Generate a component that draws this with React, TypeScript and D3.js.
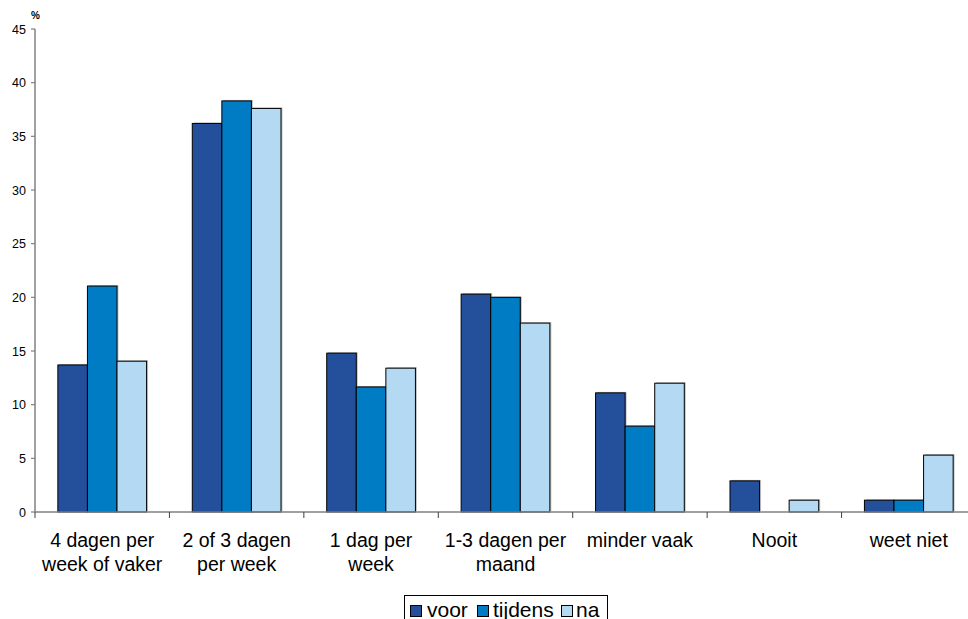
import React from "react";
import * as d3 from "d3";

const categories: string[][] = [
  ["4 dagen per", "week of vaker"],
  ["2 of 3 dagen", "per week"],
  ["1 dag per", "week"],
  ["1-3 dagen per", "maand"],
  ["minder vaak"],
  ["Nooit"],
  ["weet niet"],
];
const seriesNames = ["voor", "tijdens", "na"];
const voor = [13.7, 36.2, 14.8, 20.3, 11.1, 2.9, 1.1];
const tijdens = [21.05, 38.3, 11.65, 20.0, 8.0, 0, 1.1];
const na = [14.05, 37.6, 13.4, 17.6, 12.0, 1.1, 5.3];
const colors = ["#244f9b", "#007cc4", "#b3d9f3"];
const yTicks = [0, 5, 10, 15, 20, 25, 30, 35, 40, 45];

export default function App() {
  const W = 968, H = 619;
  const left = 35, right = 976, top = 29, bottom = 512;
  const series = [voor, tijdens, na];
  const x = d3.scaleBand<number>().domain(d3.range(categories.length)).range([left, right]).paddingInner(0).paddingOuter(0);
  const y = d3.scaleLinear().domain([0, 45]).range([bottom, top]);
  const font = "'Liberation Sans', Arial, sans-serif";
  const bw = x.bandwidth() * 0.22;
  const groupOffset = (x.bandwidth() - bw * 3) / 2;

  return (
    <svg width={W} height={H} style={{ position: "absolute", left: 0, top: 0 }} fontFamily={font}>
      <rect width={W} height={H} fill="#fff" />
      {series.map((vals, si) =>
        vals.map((v, ci) => {
          if (v <= 0) return null;
          const bx = (x(ci) as number) + groupOffset + si * bw;
          const by = y(v);
          const bh = bottom - by;
          return (
            <g key={`${si}-${ci}`}>
              <rect x={bx + 1.5} y={by - 1} width={bw} height={bh} fill="#9a9a9a" opacity={0.6} />
              <rect x={bx} y={by} width={bw} height={bh} fill={colors[si]} stroke="#000" strokeWidth={1} />
            </g>
          );
        })
      )}
      <line x1={left} x2={left} y1={top} y2={bottom} stroke="#808080" strokeWidth={1.5} />
      {yTicks.map((t) => (
        <g key={t}>
          <line x1={left - 4} x2={left} y1={y(t)} y2={y(t)} stroke="#808080" strokeWidth={1.2} />
          <text x={left - 9} y={y(t) + 4.5} fontSize={12.5} textAnchor="end" fill="#000">{t}</text>
        </g>
      ))}
      <text x={31} y={19} fontSize={10} fontWeight="bold" fill="#000">%</text>
      <line x1={left} x2={W} y1={bottom} y2={bottom} stroke="#808080" strokeWidth={1.5} />
      {d3.range(categories.length + 1).map((i) => {
        const tx = i < categories.length ? (x(i) as number) : right;
        return <line key={i} x1={tx} x2={tx} y1={bottom} y2={bottom + 6} stroke="#404040" strokeWidth={1} />;
      })}
      {categories.map((lines, ci) => (
        <text key={ci} x={(x(ci) as number) + x.bandwidth() / 2} y={547} fontSize={19.5} textAnchor="middle" fill="#000">
          {lines.map((l, li) => (
            <tspan key={li} x={(x(ci) as number) + x.bandwidth() / 2} dy={li === 0 ? 0 : 24}>{l}</tspan>
          ))}
        </text>
      ))}
      <rect x={404.5} y={595.5} width={203} height={30} fill="#fff" stroke="#000" strokeWidth={1} />
      {(() => {
        const items = [
          { sx: 410, tx: 427 },
          { sx: 477, tx: 493 },
          { sx: 561, tx: 576 },
        ];
        return seriesNames.map((n, i) => (
          <g key={n}>
            <rect x={items[i].sx + 0.5} y={605.5} width={11} height={11} fill={colors[i]} stroke="#000" strokeWidth={1} />
            <text x={items[i].tx} y={617} fontSize={21} fill="#000">{n}</text>
          </g>
        ));
      })()}
    </svg>
  );
}
